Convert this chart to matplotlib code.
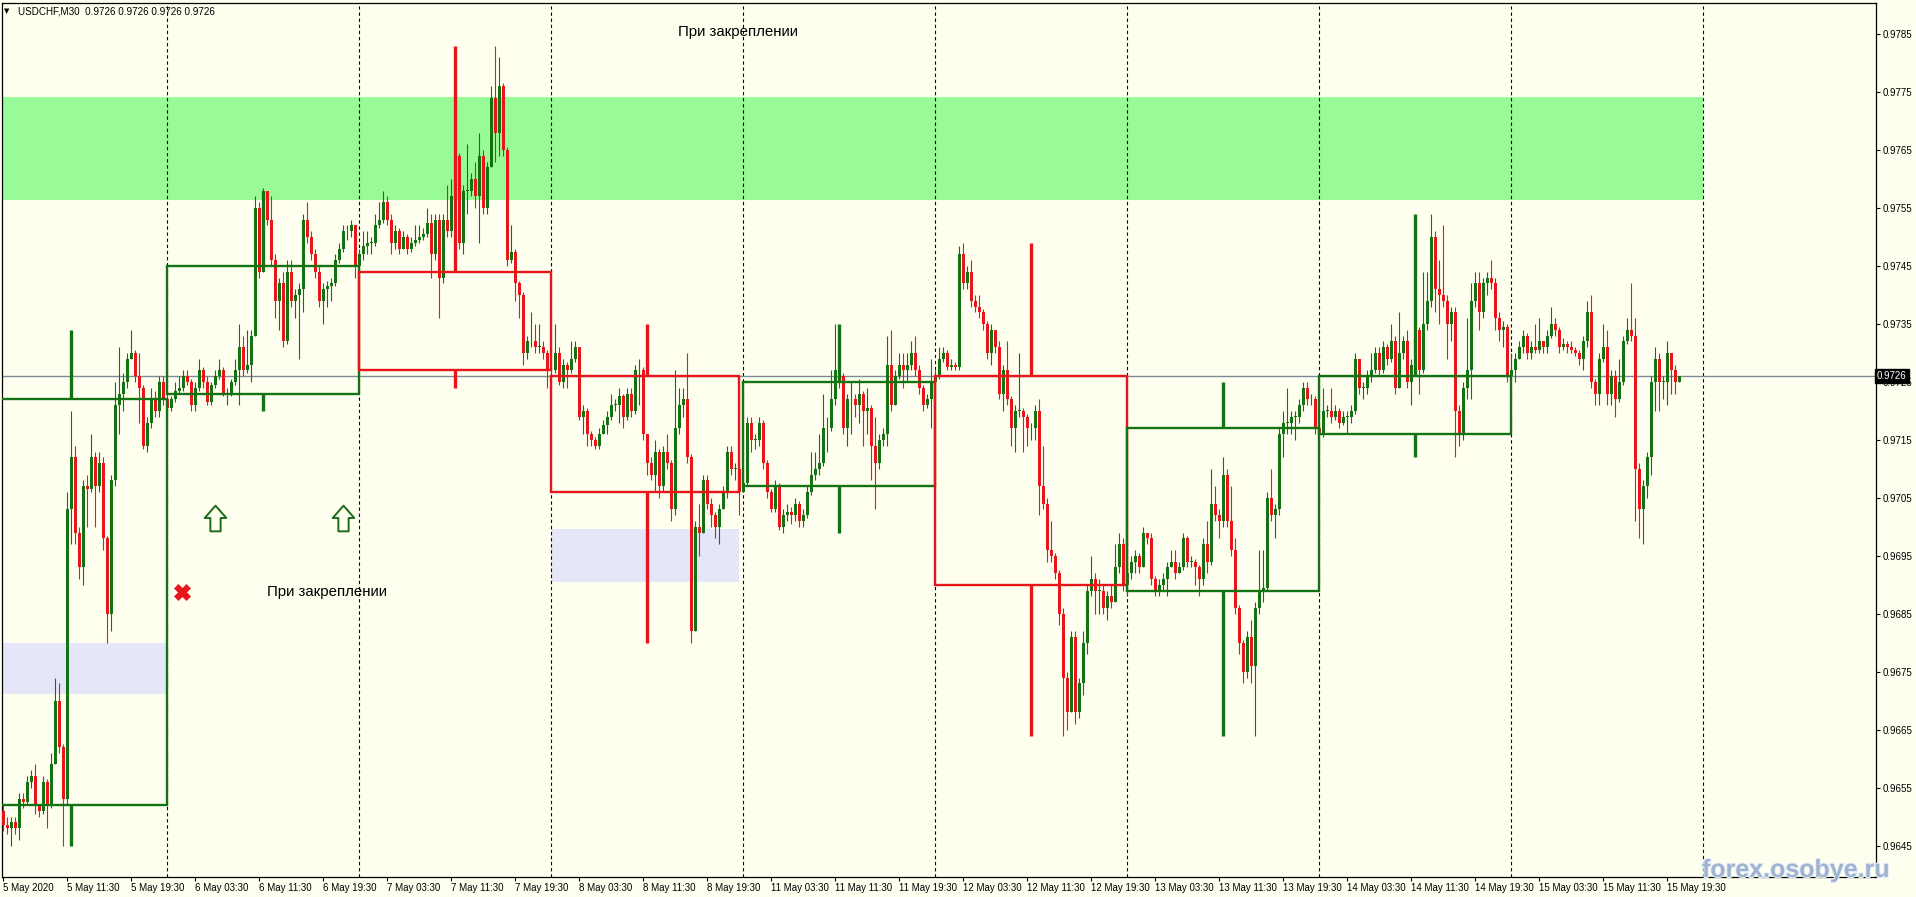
import numpy as np
import matplotlib.pyplot as plt
import matplotlib.patheffects as pe
from matplotlib.path import Path
from matplotlib.patches import Rectangle
from matplotlib.transforms import blended_transform_factory

plt.rcParams['font.family'] = ['Liberation Sans', 'DejaVu Sans']

# ---- data (prices in pips, 0.0001) ----
session_days = [5, 6, 7, 8, 11, 12, 13, 14, 15]   # May 2020 trading days
first_bar = -41            # 5 May 03:30 ; bar 0 = 6 May 00:00, 48 bars a day (M30)
first_open = 9651

close_pips = [
    [9648.5, 9648, 9649, 9648, 9653, 9652.5, 9656, 9657, 9652, 9651, 9656, 9652, 9659, 9670, 9662, 9653,
     9703, 9712, 9699, 9693, 9707, 9706.5, 9712, 9707, 9711, 9698, 9685, 9708, 9721, 9723, 9725, 9729,
     9730, 9726, 9724, 9714, 9718, 9722, 9720, 9725, 9722],
    [9720.5, 9722, 9723.5, 9724, 9726, 9725, 9721, 9724, 9727, 9725, 9721.5, 9724.5, 9726, 9727, 9723, 9723,
     9725, 9727, 9731, 9727, 9728, 9733, 9755, 9744, 9758, 9753, 9746, 9739, 9742, 9732, 9744, 9739,
     9740, 9741, 9753, 9750, 9747, 9744, 9739, 9741, 9741.5, 9742, 9746, 9748, 9751, 9751, 9752, 9745],
    [9747, 9748.5, 9749, 9749, 9752, 9753, 9756, 9753, 9749, 9751, 9748, 9750, 9748, 9749, 9749.5, 9750,
     9750.5, 9752.5, 9747, 9753, 9743, 9753, 9751, 9757, 9764, 9749, 9758, 9758, 9760, 9757, 9764, 9755,
     9762, 9774, 9768, 9776, 9765, 9746, 9747.5, 9742, 9740, 9730, 9732, 9732, 9731, 9731, 9730, 9727],
    [9727, 9730, 9725, 9728, 9727, 9729, 9731, 9719, 9720, 9716, 9715, 9714, 9716, 9717.5, 9719, 9721,
     9721, 9722.5, 9719, 9723, 9720, 9727, 9727, 9716, 9711, 9709, 9713, 9707, 9713, 9711, 9703, 9717,
     9721, 9722, 9712, 9682, 9700, 9699, 9708, 9704, 9702, 9700, 9703, 9706, 9713, 9710, 9710, 9706],
    [9707.5, 9718, 9715, 9715, 9718, 9711, 9706, 9703, 9707, 9700, 9702, 9702.5, 9702, 9704, 9701, 9702,
     9706, 9709, 9710, 9711, 9717, 9717, 9722, 9727, 9726, 9717, 9722, 9722, 9721, 9723, 9720, 9720.5,
     9714, 9711, 9715, 9716, 9728, 9721, 9726, 9728, 9727, 9728, 9730, 9727, 9724, 9721, 9722, 9725],
    [9726, 9729, 9730, 9727.5, 9728, 9727.5, 9747, 9742, 9744, 9739, 9738, 9737, 9735, 9730, 9734, 9731,
     9723, 9727, 9722, 9717, 9720, 9720, 9719, 9717, 9717, 9720, 9707, 9704, 9696, 9695, 9692, 9685,
     9674, 9668, 9681, 9668, 9673, 9680, 9689, 9691, 9689, 9689, 9686, 9688, 9687, 9693, 9697, 9690],
    [9692, 9694, 9695, 9693, 9699, 9698, 9691, 9689, 9690, 9691, 9693, 9694, 9692, 9693, 9698, 9694,
     9694, 9693, 9691, 9697, 9694, 9704, 9702, 9701, 9709, 9701, 9696, 9686, 9680, 9675, 9681, 9676,
     9686, 9689, 9689.5, 9705, 9702, 9703, 9716, 9718, 9718, 9719, 9719, 9721, 9724, 9722, 9722, 9717],
    [9716, 9720, 9720, 9719, 9720, 9718, 9719, 9719, 9720, 9729, 9724, 9724, 9726, 9727, 9730, 9727,
     9731, 9729, 9732, 9724, 9730, 9732, 9725, 9728, 9734, 9727, 9735, 9739, 9750, 9741, 9740, 9739,
     9735, 9737, 9720, 9716, 9724, 9727, 9739, 9742, 9737, 9742, 9743, 9742, 9736, 9734, 9734.5, 9726],
    [9727, 9729, 9731, 9733, 9730, 9731, 9730.5, 9732, 9731, 9733, 9735, 9734, 9731, 9731.5, 9731, 9730.5,
     9730, 9729, 9732, 9737, 9725, 9723, 9729, 9731, 9723, 9726, 9722, 9725, 9732, 9734, 9733, 9710,
     9703, 9707, 9712, 9725, 9729, 9725, 9725, 9730, 9727, 9725, 9726],
]
high_pips = [
    [9652, 9650, 9650, 9650, 9654, 9654, 9657, 9658, 9659, 9652, 9657, 9656.5, 9661, 9674, 9673, 9662.5,
     9706, 9720, 9714, 9700, 9708, 9709, 9716, 9713, 9713, 9712, 9698.5, 9709, 9725, 9731, 9726.5, 9730,
     9734, 9730.5, 9730, 9724.5, 9719, 9724, 9723.5, 9726, 9726],
    [9723, 9722.5, 9725, 9726, 9727, 9727, 9725.5, 9725, 9729, 9727.5, 9726, 9725, 9727, 9729, 9727.5, 9724,
     9725.5, 9729, 9735, 9733, 9734, 9734, 9757, 9756, 9758.5, 9758, 9757, 9747, 9743, 9744, 9746, 9746,
     9741, 9742, 9754, 9756, 9751, 9748, 9745, 9742, 9742.5, 9743, 9747, 9749, 9752, 9752, 9753, 9751],
    [9748, 9751, 9751, 9750, 9754, 9756, 9758, 9757, 9754, 9752, 9751.5, 9751, 9750.5, 9750, 9752, 9752,
     9751.5, 9755, 9754, 9754, 9754, 9754, 9759, 9760, 9766, 9764.5, 9759, 9766, 9761, 9763, 9768, 9765,
     9763, 9776, 9783, 9781, 9776.5, 9765.5, 9752, 9748, 9742.5, 9740.5, 9733, 9737, 9735, 9735, 9732, 9730.5],
    [9728, 9735, 9731, 9729, 9728.5, 9732, 9732, 9731, 9721, 9720.5, 9716.5, 9715.5, 9717, 9718.5, 9720, 9723,
     9722, 9724, 9723, 9724, 9724, 9728, 9729, 9727.5, 9716, 9712, 9715, 9713.5, 9714, 9716, 9711.5, 9727,
     9724, 9724, 9730, 9712.5, 9701, 9704, 9709, 9709, 9705, 9702.5, 9704, 9707, 9714, 9714, 9711, 9710.5],
    [9709, 9719, 9719, 9716, 9719, 9718.5, 9711.5, 9706.5, 9708, 9707.5, 9703, 9704, 9703.5, 9705, 9704.5, 9703,
     9707, 9713, 9713, 9716, 9723, 9719, 9727, 9735, 9729, 9726.5, 9723, 9725, 9723, 9725.5, 9723.5, 9724,
     9721, 9719, 9716, 9717, 9733, 9734, 9727, 9730, 9730, 9730, 9732, 9733, 9728, 9724.5, 9723, 9729],
    [9727, 9731, 9731, 9730.5, 9729, 9728.5, 9748.5, 9749, 9745, 9746, 9740, 9740, 9737.5, 9735.5, 9735, 9734,
     9732, 9728, 9732, 9722.5, 9721, 9730, 9720.5, 9719.5, 9718, 9721, 9722, 9714, 9705, 9701, 9695.5, 9692.5,
     9686, 9675, 9682, 9682, 9674, 9682, 9690, 9695, 9692, 9691, 9690, 9689, 9690, 9697, 9699, 9698],
    [9693, 9695, 9696, 9695.5, 9700, 9699, 9699, 9691.5, 9691, 9692, 9694, 9696, 9696, 9694, 9699, 9698.5,
     9695, 9694.5, 9693.5, 9698, 9701, 9710, 9707, 9703, 9712, 9710, 9707, 9698, 9686.5, 9680.5, 9682, 9684,
     9687, 9696, 9696, 9706, 9710, 9704, 9717, 9720, 9724, 9720, 9720, 9722, 9725, 9725, 9723, 9722.5],
    [9717, 9724, 9721, 9724, 9721, 9720.5, 9720, 9720, 9721, 9730, 9729, 9725, 9727, 9730, 9731, 9731,
     9732, 9731.5, 9735, 9733, 9737, 9733, 9734, 9729, 9736, 9734.5, 9744, 9744, 9754, 9751, 9746, 9752,
     9740, 9738, 9738, 9721, 9725, 9736, 9742, 9744, 9744, 9743, 9744, 9746, 9743, 9737, 9735.5, 9735],
    [9730, 9730, 9732, 9734, 9733.5, 9732, 9735, 9736, 9732, 9734, 9738, 9736, 9734.5, 9732.5, 9732, 9732,
     9731, 9730.5, 9733, 9739, 9740, 9725.5, 9730, 9735, 9734, 9727, 9727, 9729, 9733, 9736, 9742, 9736,
     9711, 9708, 9713, 9726, 9731, 9730, 9726, 9732, 9730, 9728, 9726],
]
low_pips = [
    [9647.5, 9647, 9645, 9647, 9646, 9651.5, 9652, 9655, 9650.5, 9650, 9650.5, 9648, 9651.5, 9659, 9661, 9645,
     9652, 9697, 9697, 9691, 9690, 9700, 9706, 9700, 9706, 9696, 9680, 9682, 9707, 9716, 9720, 9724,
     9729, 9725, 9718, 9713.5, 9713, 9717, 9719, 9719, 9721],
    [9720, 9720, 9721.5, 9723, 9723.5, 9724.5, 9720, 9720, 9723.5, 9724, 9721, 9721, 9724, 9725.5, 9722.5, 9721,
     9722.5, 9724.5, 9721, 9726, 9726.5, 9725, 9733, 9743, 9744, 9752, 9745, 9736, 9734, 9731, 9731.5, 9738,
     9736, 9729, 9737, 9749, 9746, 9743, 9738, 9735, 9738, 9739, 9741.5, 9745.5, 9747.5, 9749.5, 9750, 9743],
    [9744, 9746, 9747, 9747, 9748.5, 9751.5, 9752.5, 9752, 9747, 9748, 9747, 9748, 9747, 9747.5, 9748.5, 9749,
     9749.5, 9750, 9743, 9746, 9736, 9742, 9750, 9750, 9756, 9748, 9747, 9754, 9757, 9755, 9749, 9754,
     9754, 9763, 9763, 9764, 9764, 9745, 9745.5, 9739, 9736, 9728, 9729, 9731, 9730, 9730, 9729, 9724],
    [9725, 9726.5, 9724.5, 9724, 9724, 9726.5, 9728.5, 9718.5, 9716, 9714, 9714, 9713.5, 9713.5, 9716, 9716, 9718.5,
     9720, 9718, 9717, 9718.5, 9719, 9719.5, 9721, 9715, 9709, 9708, 9706, 9705, 9706, 9710, 9701, 9702,
     9716, 9719, 9711, 9680, 9682, 9695, 9699, 9703, 9700, 9698, 9697, 9703, 9705, 9709, 9708, 9702],
    [9706, 9707, 9713, 9713.5, 9714, 9710, 9705, 9702.5, 9702.5, 9699.5, 9699, 9701, 9700.5, 9701, 9700, 9700,
     9701.5, 9705.5, 9708, 9709, 9710.5, 9713, 9716.5, 9721, 9724, 9716, 9714, 9716, 9719, 9718, 9714, 9716,
     9708, 9703, 9710, 9714, 9714, 9720, 9721, 9725.5, 9724, 9725, 9727, 9726, 9723, 9720, 9720.5, 9717],
    [9724.5, 9725.5, 9728.5, 9727, 9727, 9727, 9727, 9741, 9741, 9738, 9737, 9736, 9734, 9729, 9728, 9730,
     9722, 9720, 9721, 9714, 9713, 9719, 9713, 9714, 9715, 9715, 9702, 9703, 9694, 9694, 9691, 9683,
     9664, 9665, 9668, 9666, 9667, 9671, 9678, 9688, 9685, 9685, 9685, 9684, 9686, 9687, 9692, 9689],
    [9688, 9691, 9692, 9692, 9693, 9697, 9690, 9688, 9688, 9689, 9688, 9693, 9691, 9692, 9692.5, 9693,
     9693, 9690, 9688, 9690, 9692, 9693.5, 9701, 9698, 9700, 9700, 9695, 9685, 9678, 9673, 9674, 9673,
     9664, 9685, 9687, 9689, 9701, 9698, 9702, 9712, 9716, 9716, 9715, 9718, 9720, 9721, 9721, 9716],
    [9715, 9715.5, 9719, 9718, 9718.5, 9717, 9717.5, 9716, 9718, 9719.5, 9723, 9722, 9723, 9725, 9726.5, 9726,
     9726.5, 9728, 9728.5, 9723, 9725, 9729, 9724, 9721, 9727, 9723, 9726.5, 9734, 9738, 9737, 9735, 9738,
     9729, 9732, 9712, 9714, 9715, 9722, 9722, 9738, 9734, 9736, 9740, 9741, 9734, 9732, 9731, 9725],
    [9725.5, 9725, 9729, 9730, 9729, 9729, 9730, 9730, 9730, 9730, 9732.5, 9733, 9730, 9730.5, 9730, 9730,
     9729.5, 9728, 9727, 9731, 9724, 9721, 9721, 9728.5, 9721, 9721, 9719, 9721.5, 9724.5, 9731.5, 9732, 9701,
     9698, 9697, 9705, 9709, 9720, 9720, 9722, 9721, 9723, 9723, 9726],
]

# daily (D1) candles drawn as boxes
d_open = [9652, 9723, 9744, 9726, 9707, 9726, 9689, 9716]
d_high = [9734, 9758, 9783, 9735, 9735, 9749, 9725, 9754]
d_low = [9645, 9720, 9724, 9680, 9699, 9664, 9664, 9712]
d_close = [9722, 9745, 9727, 9706, 9725, 9690, 9717, 9726]

bid = 9726
green_zone = (9756.4, 9774.2)
lav_zones = [(-48, -0.4, 9671.1, 9680.0), (96, 142.9, 9690.5, 9699.6)]
arrow_bars, arrow_price = [12, 44], 9701.5
cross_bar, cross_price = 3.75, 9688.8
notes = [(127.7, 9785.4, 'При закреплении'), (24.85, 9688.8, 'При закреплении')]

x_labels = ['5 May 2020', '5 May 11:30', '5 May 19:30', '6 May 03:30', '6 May 11:30', '6 May 19:30',
            '7 May 03:30', '7 May 11:30', '7 May 19:30', '8 May 03:30', '8 May 11:30', '8 May 19:30',
            '11 May 03:30', '11 May 11:30', '11 May 19:30', '12 May 03:30', '12 May 11:30', '12 May 19:30',
            '13 May 03:30', '13 May 11:30', '13 May 19:30', '14 May 03:30', '14 May 11:30', '14 May 19:30',
            '15 May 03:30', '15 May 11:30', '15 May 19:30']

BG = '#FFFFF0'
GREEN = '#137313'
RED = '#E8161B'

# ---- build candles ----
c = np.array([v for day in close_pips for v in day]) / 1e4
h = np.array([v for day in high_pips for v in day]) / 1e4
l = np.array([v for day in low_pips for v in day]) / 1e4
o = np.concatenate([[first_open / 1e4], c[:-1]])
h = np.maximum(h, np.maximum(o, c))
l = np.minimum(l, np.minimum(o, c))
x = np.arange(first_bar, first_bar + len(c))
cols = np.where(c >= o, GREEN, RED)

fig = plt.figure(figsize=(19.16, 8.97), dpi=100, facecolor=BG)
ax = fig.add_axes([2 / 1916, 20 / 897, 1874 / 1916, 874 / 897], facecolor=BG)

px_left = (2 - 167.3) / 4
px_right = (1876 - 167.3) / 4
ax.set_xlim(px_left, px_right)
ax.set_ylim(0.963959, 0.979038)

# zones
sep_bars = [48 * k for k in range(len(session_days))]
ax.add_patch(Rectangle((-48, green_zone[0] / 1e4), sep_bars[-1] + 48, (green_zone[1] - green_zone[0]) / 1e4,
                       fc='#98FB98', ec='none', zorder=0.5))
for x0, x1, y0, y1 in lav_zones:
    ax.add_patch(Rectangle((x0, y0 / 1e4), x1 - x0, (y1 - y0) / 1e4, fc='#E6E6FA', ec='none', zorder=0.5))

# period separators
for s in sep_bars:
    ax.axvline(s, color='black', lw=0.8, ls=(0, (3, 2.5)), zorder=1)

ax.axhline(bid / 1e4, color='#7d8b99', lw=1, zorder=1.5)

# M30 candles
ax.vlines(x, l, h, colors=cols, lw=0.8, zorder=3)
ax.bar(x, np.maximum(np.abs(c - o), 0.000012), bottom=np.minimum(o, c), width=0.66,
       color=cols, lw=0, zorder=3.1)

# D1 boxes
for k in range(len(d_open)):
    start = -48 + 48 * k
    end = start + 48 if session_days[k + 1] == session_days[k] + 1 else start + 47
    do, dc = d_open[k] / 1e4, d_close[k] / 1e4
    col = GREEN if dc >= do else RED
    ax.add_patch(Rectangle((start, min(do, dc)), end - start, abs(dc - do), fill=False,
                           ec=col, lw=1.7, zorder=4))
    mid = start + 24
    ax.vlines(mid, max(do, dc), d_high[k] / 1e4, colors=col, lw=2.4, zorder=4)
    ax.vlines(mid, d_low[k] / 1e4, min(do, dc), colors=col, lw=2.4, zorder=4)

# arrows and cross
arrow = Path([(0, 0.5), (0.42, 0.02), (0.2, 0.02), (0.2, -0.5), (-0.2, -0.5), (-0.2, 0.02),
              (-0.42, 0.02), (0, 0.5)],
             [Path.MOVETO] + [Path.LINETO] * 6 + [Path.CLOSEPOLY])
ax.plot(arrow_bars, [arrow_price / 1e4] * len(arrow_bars), ls='none', marker=arrow, ms=18.5,
        mfc=BG, mec='#1b6b1b', mew=1.4, zorder=5)
ax.plot([cross_bar], [cross_price / 1e4], ls='none', marker='X', ms=11, mfc=RED, mec=RED,
        mew=0.5, zorder=5)
for bx, py, txt in notes:
    ax.text(bx, py / 1e4, txt, fontsize=10.8, ha='left', va='center', color='black', zorder=5)

# axes styling
for sp in ax.spines.values():
    sp.set_color('black')
    sp.set_linewidth(0.9)
ax.yaxis.tick_right()
yt = np.arange(9645, 9786, 10) / 1e4
ax.set_yticks(yt)
ax.set_yticklabels(['%.4f' % v for v in yt])
ax.tick_params(axis='y', direction='out', length=3, width=0.8, pad=2, labelsize=7, colors='black')
xt = [first_bar + 16 * k for k in range(len(x_labels))]
ax.set_xticks(xt)
ax.set_xticklabels(x_labels, ha='left')
ax.tick_params(axis='x', direction='out', length=3, width=0.8, pad=1.5, labelsize=7, colors='black')

# current price tag
tr = blended_transform_factory(ax.transAxes, ax.transData)
ax.text(1.0005, bid / 1e4, '0.9726', transform=tr, ha='left', va='center', fontsize=7, color='white',
        bbox=dict(boxstyle='square,pad=0.22', fc='black', ec='black'), zorder=10, clip_on=False)

# header
fig.text(4 / 1916, 1 - 11 / 897, '▼', fontsize=5, family='DejaVu Sans', va='center', ha='left')
fig.text(18 / 1916, 1 - 11 / 897, 'USDCHF,M30  0.9726 0.9726 0.9726 0.9726', fontsize=7.1,
         va='center', ha='left')

# watermark
fig.text(1702 / 1916, 1 - 877 / 897, 'forex.osobye.ru', fontsize=18, fontweight='bold',
         color='#9db3d2', va='baseline', ha='left', zorder=20,
         path_effects=[pe.withStroke(linewidth=1.5, foreground='#e8eef6')])

fig.savefig('out.png', dpi=100, facecolor=BG)
